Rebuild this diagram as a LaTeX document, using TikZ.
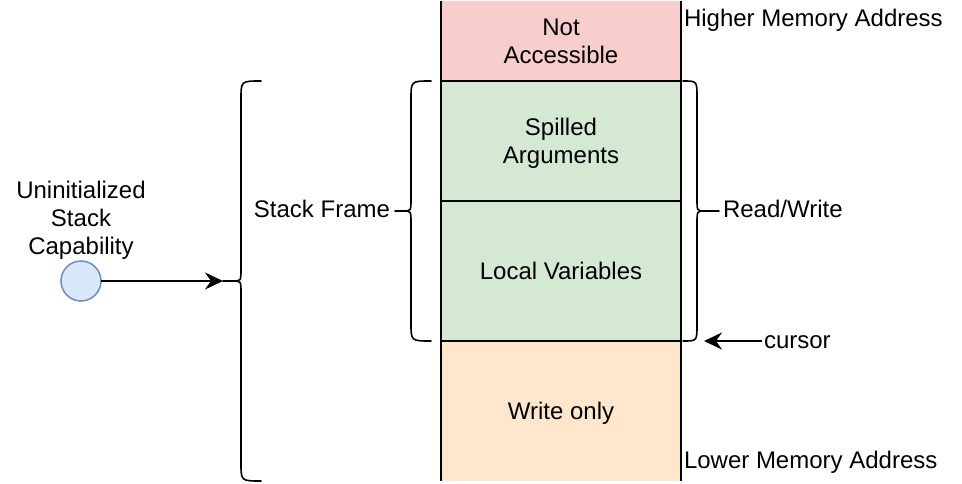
\documentclass[tikz,border=0pt]{standalone}
\usepackage{fontspec}
\setmainfont{Liberation Sans}
\usetikzlibrary{arrows.meta}
\definecolor{redf}{HTML}{F8CECC}
\definecolor{greenf}{HTML}{D5E8D4}
\definecolor{orangef}{HTML}{FFE6CC}
\definecolor{bluef}{HTML}{DAE8FC}
\definecolor{blued}{HTML}{6C8EBF}
\begin{document}
\begin{tikzpicture}[x=1pt,y=-1pt,
  every node/.style={font=\fontsize{24}{28}\selectfont, inner sep=0pt, outer sep=0pt},
  membox/.style={rectangle, minimum width=240pt, align=center, text depth=0pt},
  sep/.style={line width=1.2pt},
  edge/.style={line width=1.5pt},
  brace/.style={line width=1.6pt, line cap=round, line join=round},
  arr/.style={line width=1.5pt, arrows={-Stealth[length=18pt, width=17pt, inset=6pt]}},
  lbl/.style={}
]
\useasboundingbox (0,0) rectangle (962,484);

% memory boxes
\node[membox, minimum height=80pt, fill=redf] (na) at (561,41) {Not\\Accessible};
\node[membox, minimum height=120pt, fill=greenf] (sa) at (561,141) {Spilled\\Arguments};
\node[membox, minimum height=140pt, fill=greenf] (lv) at (561,271) {Local Variables};
\node[membox, minimum height=140pt, fill=orangef] (wo) at (561,411) {Write only};

\draw[sep] (na.south west) -- (na.south east);
\draw[sep] (sa.south west) -- (sa.south east);
\draw[sep] (lv.south west) -- (lv.south east);
\draw[edge] (na.north west) -- (wo.south west);
\draw[edge] (na.north east) -- (wo.south east);

% side labels
\node[lbl, anchor=base west] (hi) at (684,27) {Higher Memory Address};
\node[lbl, anchor=base west] (lo) at (684,468) {Lower Memory Address};
\node[lbl, anchor=base west] (rw) at (723,218) {Read/Write};
\node[lbl, anchor=base east] (sf) at (390,218) {Stack Frame};
\node[lbl, anchor=base west] (cur) at (764,348) {cursor};

% braces
\coordinate (bigtip) at (223,281);
\draw[brace] (261,81) .. controls (241,81) .. (241,99) -- (241,269) .. controls (241,281) .. (233,281) -- (bigtip);
\draw[brace] (233,281) .. controls (241,281) .. (241,293) -- (241,463) .. controls (241,481) .. (261,481);

\coordinate (sftip) at (395,211);
\draw[brace] (431,81) .. controls (411,81) .. (411,99) -- (411,199) .. controls (411,211) .. (403,211) -- (sftip);
\draw[brace] (403,211) .. controls (411,211) .. (411,223) -- (411,323) .. controls (411,341) .. (431,341);

\coordinate (rwtip) at (719,211);
\draw[brace] (683,81) .. controls (697,81) .. (697,97) -- (697,199) .. controls (697,211) .. (705,211) -- (rwtip);
\draw[brace] (705,211) .. controls (697,211) .. (697,223) -- (697,325) .. controls (697,341) .. (683,341);

% capability
\node[circle, draw=blued, fill=bluef, line width=1.5pt, minimum size=40pt] (cap) at (81,281) {};
\node[align=center] (caplbl) at (81,220) {Uninitialized\\Stack\\Capability};
\draw[arr] (cap) -- (bigtip);

% cursor arrow
\coordinate (curtip) at (704,341);
\draw[arr] ([xshift=-2pt]cur.west |- curtip) -- (curtip);
\end{tikzpicture}
\end{document}
